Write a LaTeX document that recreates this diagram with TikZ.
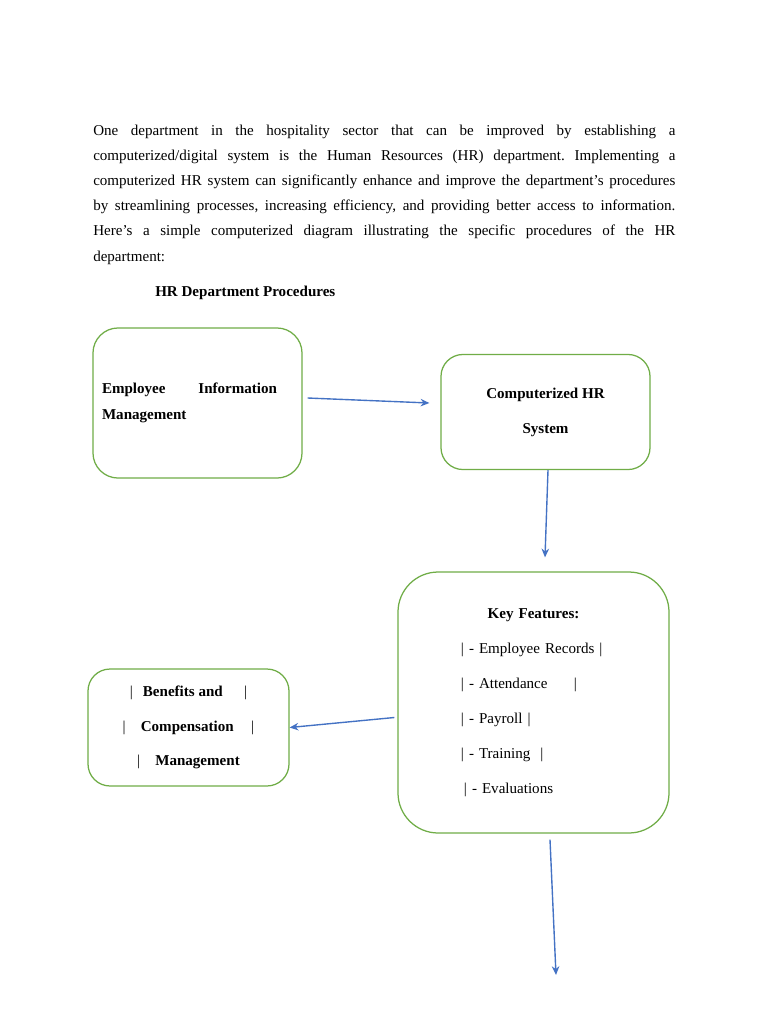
\documentclass[tikz,border=0pt]{standalone}
\usepackage{fontspec}
\setmainfont{Liberation Serif}
\usepackage{tikz}
\usetikzlibrary{arrows.meta,calc}
\definecolor{boxgreen}{HTML}{70AD47}
\definecolor{flowblue}{HTML}{4472C4}
\frenchspacing
\hyphenpenalty=10000

\begin{document}
\begin{tikzpicture}[x=0.797pt,y=-0.797pt,
        procbox/.style={draw=boxgreen,line width=1pt,rounded corners=#1,inner sep=0pt},
        procbox/.default=18pt,
        flow/.style={draw=flowblue,line width=1.1pt,-{Stealth[length=7pt,width=6pt]}}]
                \fill[white] (0,0) rectangle (768,1024);
                \useasboundingbox (0,0) rectangle (768,1024);

                \node[anchor=base west,inner sep=0pt,text width=464pt,align=justify,
                      font=\fontsize{12}{20.1}\selectfont] (intro) at (93,135)
                {One department in the hospitality sector that can be improved by establishing a\linebreak
                computerized/digital system is the Human Resources (HR) department. Implementing a\linebreak
                computerized HR system can significantly enhance and improve the department's procedures\linebreak
                by streamlining processes, increasing efficiency, and providing better access to information.\linebreak
                Here's a simple computerized diagram illustrating the specific procedures of the HR\linebreak
                department:};

                \node[anchor=base west,inner sep=0pt,font=\bfseries\fontsize{12}{14}\selectfont] (title) at (155,296)
                {HR Department Procedures};

                \node[procbox=20pt,minimum width=166.6pt,minimum height=119.6pt,
                      text width=152.2pt,inner xsep=7.2pt,align=left,
                      font=\bfseries\fontsize{12}{20.7}\selectfont] (emp) at (197.5,403)
                {\makebox[139.5pt][l]{Employee\hfill Information}\\Management};

                \node[procbox=17.5pt,minimum width=166.6pt,minimum height=91.7pt,align=center,
                      font=\bfseries\fontsize{12}{27.9}\selectfont] (hrsys) at (545.5,412)
                {Computerized HR\\System};

                \node[procbox=32pt,minimum width=216pt,minimum height=208pt,
                      text width=115.6pt,inner xsep=50.2pt,align=left,
                      font=\fontsize{12}{27.9}\selectfont] (feat) at (533.5,702.5)
                {\makebox[\linewidth]{\bfseries Key Features:}\\
                 | - Employee Records |\\
                 | - Attendance\hspace{21pt}|\\
                 | - Payroll |\\
                 | - Training\ \ |\\
                 \hspace*{2.4pt}| - Evaluations};

                \node[procbox=17.5pt,minimum width=160.2pt,minimum height=93.2pt,align=center,
                      font=\bfseries\fontsize{12}{27.7}\selectfont] (benefit) at (188.5,727.5)
                {{\mdseries|}\hspace{8pt}Benefits and\hspace{17pt}{\mdseries|}\\
                 {\mdseries|}\hspace{12pt}Compensation\hspace{14pt}{\mdseries|}\\
                 {\mdseries|}\hspace{12pt}Management};

                \coordinate (out) at (556,975);

                \draw[flow] ($(emp.east)+(5,-5)$) -- ($(hrsys.west)+(-11,-9)$);
                \draw[flow] ($(hrsys.south)+(2.5,0)$) -- ($(feat.north)+(11.5,-14)$);
                \draw[flow] ($(feat.west)+(-3,15)$) -- (benefit.east);
                \draw[flow] ($(feat.south)+(16.5,6)$) -- (out);
\end{tikzpicture}
\end{document}
